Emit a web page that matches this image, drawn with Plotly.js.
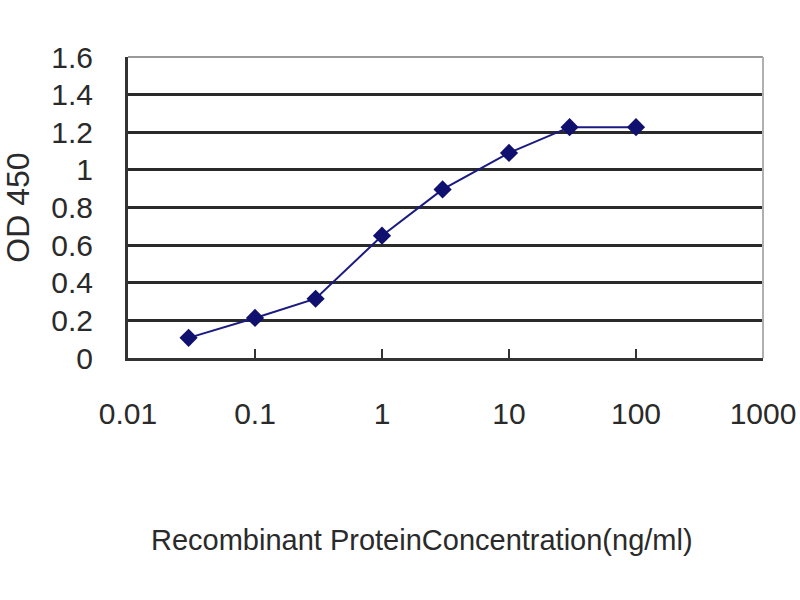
<!DOCTYPE html>
<html>
<head>
<meta charset="utf-8">
<script src="https://cdn.plot.ly/plotly-3.0.1.min.js"></script>
<style>
  html, body { margin: 0; padding: 0; background: #fff; }
  #chart { width: 800px; height: 600px; }
</style>
</head>
<body>
<div id="chart"></div>
<script>
// concentration (ng/ml) vs OD 450
const concentration = [0.03, 0.1, 0.3, 1, 3, 10, 30, 100];
const od450 = [0.107, 0.213, 0.315, 0.65, 0.896, 1.09, 1.227, 1.227];
const xTicks = [0.01, 0.1, 1, 10, 100, 1000];
const xTickLabels = ['0.01', '0.1', '1', '10', '100', '1000'];
const yTicks = [0, 0.2, 0.4, 0.6, 0.8, 1, 1.2, 1.4, 1.6];
const yTickLabels = ['0', '0.2', '0.4', '0.6', '0.8', '1', '1.2', '1.4', '1.6'];

const font = 'Liberation Sans, Arial, sans-serif';

const data = [
    {
        x: concentration,
        y: od450,
        type: 'scatter',
        mode: 'lines+markers',
        line: {color: '#1a1a80', width: 2},
        marker: {symbol: 'diamond', size: 14, color: '#10106e'},
        hoverinfo: 'x+y'
    }
];

const layout = {
    width: 800,
    height: 600,
    autosize: false,
    showlegend: false,
    paper_bgcolor: '#ffffff',
    plot_bgcolor: '#ffffff',
    font: {family: font, size: 30, color: '#2a2a2a'},
    margin: {l: 128, r: 37, t: 57, b: 242, pad: 0},
    xaxis: {
        type: 'log',
        range: [-2, 3],
        tickvals: xTicks,
        ticktext: xTickLabels,
        ticks: 'inside',
        ticklen: 9,
        tickwidth: 2,
        tickcolor: '#333',
        ticklabelstandoff: 27,
        showgrid: false,
        showline: true,
        linecolor: '#333',
        linewidth: 3,
        zeroline: false
    },
    yaxis: {
        range: [0, 1.6],
        tickvals: yTicks,
        ticktext: yTickLabels,
        ticks: '',
        ticklabelstandoff: 26,
        showgrid: true,
        gridcolor: '#2a2a2a',
        gridwidth: 3,
        showline: true,
        linecolor: '#333',
        linewidth: 3,
        zeroline: false,
        title: {text: 'OD 450', font: {size: 32}, standoff: 30}
    },
    // x title sits a bit left of the plot centre in the original
    annotations: [
        {text: 'Recombinant ProteinConcentration(ng/ml)', xref: 'paper', yref: 'paper',
         x: 0.463, y: -0.605, xanchor: 'center', yanchor: 'middle', showarrow: false,
         font: {size: 29, color: '#2a2a2a'}}
    ],
    shapes: [
        {type: 'line', xref: 'paper', yref: 'paper', x0: 0, x1: 1, y0: 1, y1: 1,
         line: {color: '#9a9a9a', width: 2}},
        {type: 'line', xref: 'paper', yref: 'paper', x0: 1, x1: 1, y0: 0, y1: 1,
         line: {color: '#b0b0b0', width: 2}}
    ]
};

Plotly.newPlot('chart', data, layout, {displayModeBar: false, staticPlot: true});
</script>
</body>
</html>
